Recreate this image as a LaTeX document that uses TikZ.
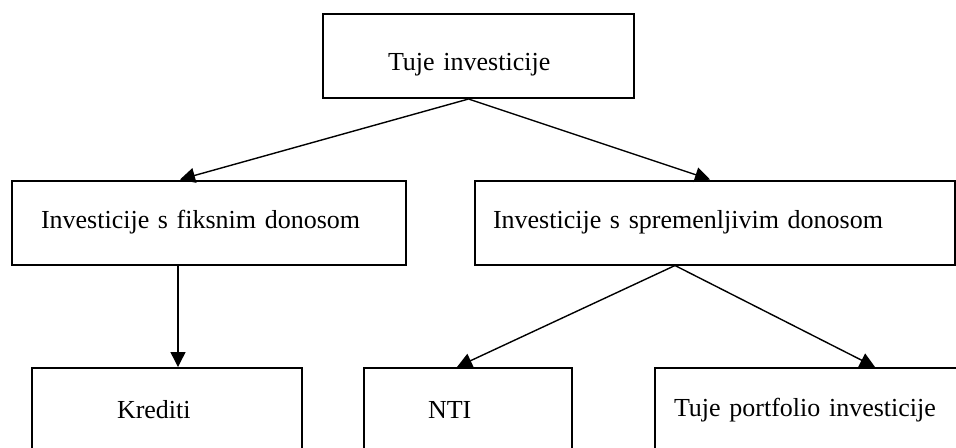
\documentclass[tikz,border=0pt]{standalone}
\usepackage{fontspec}
\setmainfont[WordSpace=0.7]{Liberation Serif}
\usetikzlibrary{positioning, arrows.meta, calc}

\begin{document}
\begin{tikzpicture}[
    x=0.5pt, y=-0.5pt,
    catbox/.style={
        draw,
        line width=1pt,
        align=left,
        minimum height=42pt,
        inner ysep=0pt,
        font=\fontsize{13}{16}\selectfont
    },
    arr/.style={
        -{Triangle[length=7.5pt, width=7.5pt]},
        line width=0.7pt
    }
]
\useasboundingbox (0,0) rectangle (956,447);

% === Top ===
\node[catbox, inner xsep=32.5pt, text width=90.5pt, text height=17pt] (tuje) at (478.5,56) {Tuje investicije};

% === Middle row ===
\node[catbox, inner xsep=14.5pt, text width=168pt] (fiks) at (209,222.5) {Investicije s fiksnim donosom};
\node[catbox, inner xsep=9pt, text width=222pt] (sprem) at (715,222.5) {Investicije s spremenljivim donosom};

% === Bottom row ===
\node[catbox, inner xsep=42.5pt, text width=50pt] (kred) at (167,410) {Krediti};
\node[catbox, inner xsep=32pt, text width=40pt] (nti) at (468,410) {NTI};
\node[catbox, inner xsep=9.5pt, text width=134.5pt] (portf) at (808.5,410) {Tuje portfolio investicije};

% === Arrows ===
\draw[arr] ($(tuje.south)+(-10,0)$) -- ($(fiks.north)+(-29,0)$);
\draw[arr] ($(tuje.south)+(-10,0)$) -- ($(sprem.north)+(-5,0)$);
\draw[arr] ($(fiks.south)+(-31,0)$) -- ($(kred.north)+(11,0)$);
\draw[arr] ($(sprem.south)+(-40,0)$) -- ($(nti.north)+(-11,0)$);
\draw[arr] ($(sprem.south)+(-40,0)$) -- ($(portf.north)+(66.5,0)$);

\end{tikzpicture}
\end{document}
